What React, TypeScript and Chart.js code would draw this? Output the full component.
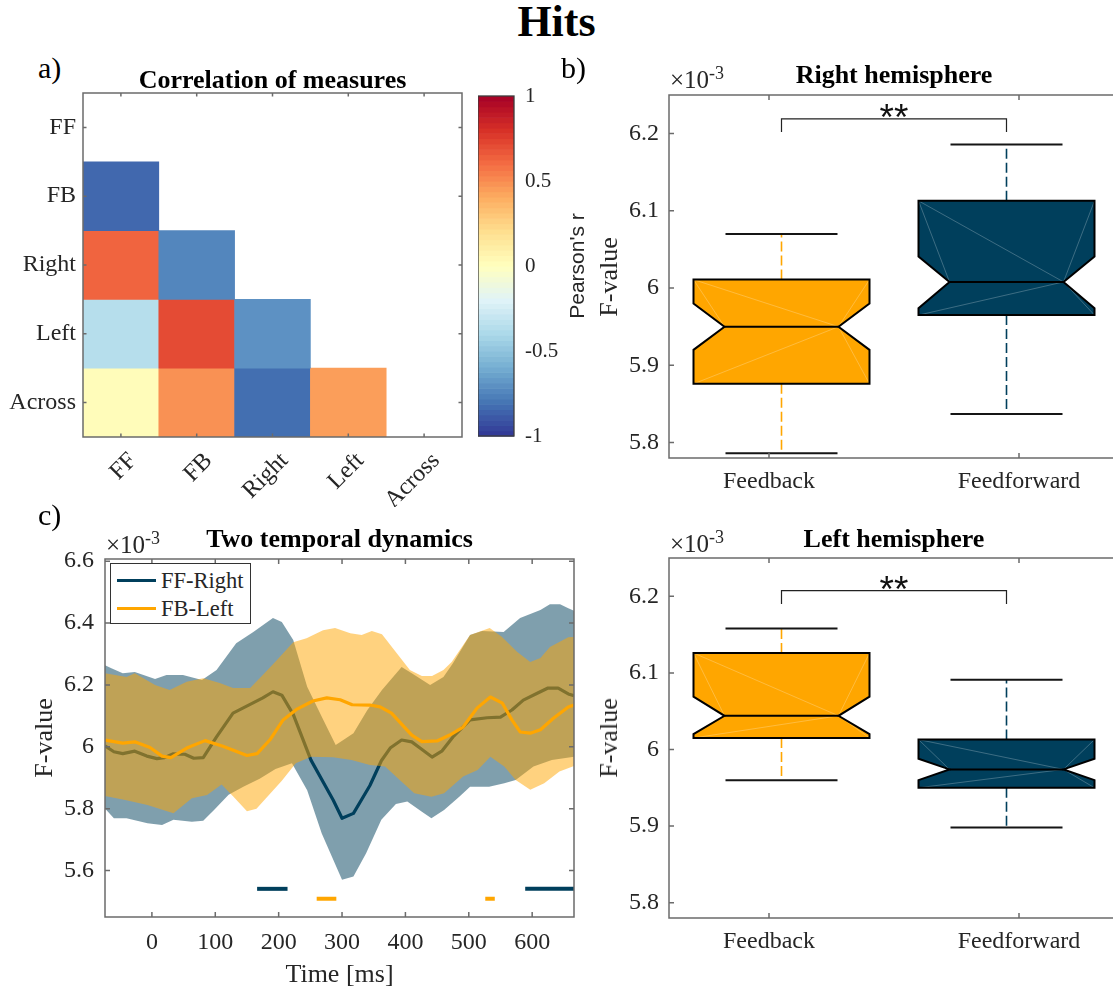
import React, { useEffect, useRef } from 'react';
import { Chart, registerables } from 'chart.js';

Chart.register(...registerables);

const SERIF = "'Liberation Serif', 'Times New Roman', Times, serif";
const SANS = "'Liberation Sans', Arial, Helvetica, sans-serif";
const NAVY = '#003f5c';
const ORANGE = '#ffa600';
const NAVY_BAND = 'rgba(0, 63, 92, 0.5)';
const ORANGE_BAND = 'rgba(255, 166, 0, 0.5)';
const TEXT = '#262626';
const AXIS = '#6b6b6b';
const CLEAR = 'rgba(0,0,0,0)';

type Pair = [number, number];

// ---------------- Panel a: correlation of measures ----------------
const MEASURES = ['FF', 'FB', 'Right', 'Left', 'Across'];
const CORR_FF: number[] = [];
const CORR_FB = [-0.84];
const CORR_RIGHT = [0.63, -0.74];
const CORR_LEFT = [-0.36, 0.71, -0.7];
const CORR_ACROSS = [0.02, 0.49, -0.82, 0.45];
const CORR_ROWS = [CORR_FF, CORR_FB, CORR_RIGHT, CORR_LEFT, CORR_ACROSS];
const COLORBAR_TICKS = [-1, -0.5, 0, 0.5, 1];
const RDYLBU = ['#313695', '#4575b4', '#74add1', '#abd9e9', '#e0f3f8', '#ffffbf', '#fee090', '#fdae61', '#f46d43', '#d73027', '#a50026'];
const COLORBAR_STEPS = 64;

// ---------------- Panels b & d: box plots ----------------
const GROUPS = ['Feedback', 'Feedforward'];
const GROUP_POS = [1.05, 1.95];
const GROUP_COLORS = [ORANGE, NAVY];
const BOX_TICKS = [5.8, 5.9, 6, 6.1, 6.2];

const RH_LOWER = [5.786, 5.837];
const RH_Q1 = [5.876, 5.965];
const RH_NOTCH_LOW = [5.92, 5.974];
const RH_MEDIAN = [5.95, 6.008];
const RH_NOTCH_HIGH = [5.98, 6.041];
const RH_Q3 = [6.011, 6.113];
const RH_UPPER = [6.07, 6.186];
const RH_BRACKET = [6.202, 6.219];

const LH_LOWER = [5.96, 5.898];
const LH_Q1 = [6.015, 5.95];
const LH_NOTCH_LOW = [6.02, 5.96];
const LH_MEDIAN = [6.044, 5.974];
const LH_NOTCH_HIGH = [6.069, 5.988];
const LH_Q3 = [6.126, 6.013];
const LH_UPPER = [6.158, 6.091];
const LH_BRACKET = [6.19, 6.2075];

// ---------------- Panel c: temporal dynamics ----------------
const TIME_TICKS = [0, 100, 200, 300, 400, 500, 600];
const FVAL_TICKS = [5.6, 5.8, 6, 6.2, 6.4, 6.6];

const FF_RIGHT_MEAN: Pair[] = [
  [-74, 6.003], [-60, 5.984], [-46, 5.978], [-27, 5.986], [-8, 5.97], [8, 5.962], [20, 5.965], [33, 5.977],
  [52, 5.976], [66, 5.963], [81, 5.965], [102, 6.032], [128, 6.109], [155, 6.137], [175, 6.158], [191, 6.178],
  [205, 6.167], [223, 6.105], [251, 5.957], [286, 5.828], [300, 5.769], [318, 5.785], [344, 5.875], [362, 5.955],
  [376, 5.996], [394, 6.022], [410, 6.016], [423, 5.996], [442, 5.967], [458, 5.987], [475, 6.032], [502, 6.087],
  [529, 6.094], [550, 6.096], [568, 6.119], [586, 6.151], [608, 6.173], [625, 6.19], [641, 6.19], [657, 6.171],
  [666, 6.165],
];
const FF_RIGHT_UPPER: Pair[] = [
  [-74, 6.264], [-63, 6.253], [-46, 6.238], [-27, 6.242], [5, 6.219], [23, 6.232], [49, 6.232], [79, 6.216],
  [102, 6.248], [133, 6.335], [160, 6.371], [191, 6.416], [205, 6.403], [223, 6.345], [245, 6.194], [268, 6.097],
  [290, 6.006], [302, 6.022], [318, 6.044], [340, 6.119], [363, 6.184], [394, 6.258], [410, 6.238], [439, 6.2],
  [460, 6.226], [475, 6.27], [502, 6.361], [521, 6.374], [555, 6.371], [581, 6.416], [613, 6.442], [628, 6.461],
  [644, 6.461], [657, 6.448], [666, 6.44],
];
const FF_RIGHT_LOWER: Pair[] = [
  [-74, 5.801], [-60, 5.769], [-40, 5.769], [-7, 5.753], [16, 5.747], [34, 5.764], [63, 5.758], [81, 5.761],
  [98, 5.796], [121, 5.845], [145, 5.872], [170, 5.897], [195, 5.928], [221, 5.947], [245, 5.86], [268, 5.72],
  [300, 5.57], [318, 5.581], [338, 5.656], [362, 5.764], [385, 5.815], [403, 5.823], [426, 5.79], [441, 5.769],
  [461, 5.796], [485, 5.839], [502, 5.871], [532, 5.871], [556, 5.882], [574, 5.893], [602, 5.936], [631, 5.957],
  [666, 5.968],
];
const FB_LEFT_MEAN: Pair[] = [
  [-74, 6.022], [-46, 6.012], [-27, 6.016], [-3, 5.998], [16, 5.97], [30, 5.965], [55, 5.996], [84, 6.02],
  [112, 6.002], [150, 5.972], [166, 5.978], [186, 6.022], [207, 6.087], [229, 6.122], [254, 6.148], [276, 6.158],
  [297, 6.152], [316, 6.136], [344, 6.135], [360, 6.129], [378, 6.109], [410, 6.038], [426, 6.017], [450, 6.019],
  [470, 6.038], [491, 6.064], [513, 6.125], [534, 6.161], [553, 6.141], [568, 6.087], [581, 6.048], [597, 6.044],
  [613, 6.055], [634, 6.093], [657, 6.129], [666, 6.135],
];
const FB_LEFT_UPPER: Pair[] = [
  [-74, 6.238], [-40, 6.226], [-27, 6.238], [5, 6.2], [28, 6.184], [55, 6.21], [81, 6.222], [107, 6.206],
  [128, 6.19], [155, 6.19], [175, 6.232], [197, 6.28], [223, 6.338], [244, 6.351], [270, 6.377], [289, 6.384],
  [313, 6.367], [331, 6.361], [347, 6.374], [363, 6.364], [391, 6.29], [407, 6.248], [426, 6.229], [442, 6.229],
  [460, 6.248], [473, 6.274], [502, 6.361], [533, 6.384], [552, 6.356], [576, 6.307], [597, 6.274], [613, 6.287],
  [628, 6.323], [657, 6.354], [666, 6.355],
];
const FB_LEFT_LOWER: Pair[] = [
  [-74, 5.841], [-42, 5.828], [-7, 5.812], [34, 5.785], [63, 5.834], [87, 5.844], [110, 5.878], [128, 5.84],
  [150, 5.792], [165, 5.8], [185, 5.845], [205, 5.89], [227, 5.947], [251, 5.968], [286, 5.966], [315, 5.957],
  [344, 5.941], [368, 5.936], [391, 5.893], [414, 5.85], [441, 5.839], [461, 5.85], [491, 5.904], [514, 5.925],
  [534, 5.968], [556, 5.936], [574, 5.893], [597, 5.861], [619, 5.882], [643, 5.92], [666, 5.938],
];
const SIG_FF_RIGHT: Pair[] = [[166, 214], [589, 666]];
const SIG_FB_LEFT: Pair[] = [[260, 291], [526, 541]];
const SIG_FF_LEVEL = 5.541;
const SIG_FB_LEVEL = 5.509;

// ---------------- helpers ----------------
function hexToRgb(h: string): number[] {
  const n = parseInt(h.slice(1), 16);
  return [(n >> 16) & 255, (n >> 8) & 255, n & 255];
}
function rdylbu(v: number): string {
  const t = Math.max(0, Math.min(1, (v + 1) / 2)) * (RDYLBU.length - 1);
  const i = Math.min(RDYLBU.length - 2, Math.floor(t));
  const f = t - i;
  const a = hexToRgb(RDYLBU[i]);
  const b = hexToRgb(RDYLBU[i + 1]);
  const c = a.map((av, k) => Math.round(av + (b[k] - av) * f));
  return `rgb(${c[0]},${c[1]},${c[2]})`;
}
const numLabel = (v: any) => String(Math.round(Number(v) * 1000) / 1000);

function fixExtent(axis: 'x' | 'y', size: number) {
  return (s: any) => {
    if (axis === 'y') s.width = size;
    else s.height = size;
    s.paddingTop = 0;
    s.paddingBottom = 0;
    s.paddingLeft = 0;
    s.paddingRight = 0;
  };
}
function setTicks(values: number[]) {
  return (s: any) => {
    s.ticks = values.map((v) => ({ value: v }));
  };
}

function axesBox(len: number) {
  return {
    id: 'axesBox',
    afterDraw(chart: any) {
      const { ctx, chartArea: a } = chart;
      const xs = chart.scales.x;
      const ys = chart.scales.y;
      ctx.save();
      ctx.strokeStyle = AXIS;
      ctx.lineWidth = 1.5;
      ctx.beginPath();
      ctx.rect(a.left, a.top, a.right - a.left, a.bottom - a.top);
      xs.ticks.forEach((_: any, i: number) => {
        const px = xs.getPixelForTick(i);
        ctx.moveTo(px, a.bottom);
        ctx.lineTo(px, a.bottom - len);
        ctx.moveTo(px, a.top);
        ctx.lineTo(px, a.top + len);
      });
      ys.ticks.forEach((_: any, i: number) => {
        const py = ys.getPixelForTick(i);
        ctx.moveTo(a.left, py);
        ctx.lineTo(a.left + len, py);
        ctx.moveTo(a.right, py);
        ctx.lineTo(a.right - len, py);
      });
      ctx.stroke();
      ctx.restore();
    },
  };
}

const BOX_HALF = 0.352;
const NOTCH_HALF = 0.228;
const CAP_HALF = 0.224;

type BoxStats = {
  low: number[]; q1: number[]; nlo: number[]; med: number[]; nhi: number[]; q3: number[]; high: number[]; bracket: number[];
};

function boxPlotPlugin(s: BoxStats) {
  return {
    id: 'notchedBoxes',
    afterDatasetsDraw(chart: any) {
      const { ctx, chartArea: a } = chart;
      const xs = chart.scales.x;
      const ys = chart.scales.y;
      const X = (v: number) => xs.getPixelForValue(v);
      const Y = (v: number) => ys.getPixelForValue(v);
      ctx.save();
      ctx.beginPath();
      ctx.rect(a.left, a.top, a.right - a.left, a.bottom - a.top);
      ctx.clip();
      GROUP_POS.forEach((p, i) => {
        const color = GROUP_COLORS[i];
        const xc = X(p);
        ctx.setLineDash([10, 4]);
        ctx.lineWidth = 1.6;
        ctx.strokeStyle = color;
        ctx.beginPath();
        ctx.moveTo(xc, Y(s.q3[i]));
        ctx.lineTo(xc, Y(s.high[i]));
        ctx.moveTo(xc, Y(s.q1[i]));
        ctx.lineTo(xc, Y(s.low[i]));
        ctx.stroke();
        ctx.setLineDash([]);
        ctx.strokeStyle = '#151515';
        ctx.lineWidth = 2;
        ctx.beginPath();
        ctx.moveTo(X(p - CAP_HALF), Y(s.high[i]));
        ctx.lineTo(X(p + CAP_HALF), Y(s.high[i]));
        ctx.moveTo(X(p - CAP_HALF), Y(s.low[i]));
        ctx.lineTo(X(p + CAP_HALF), Y(s.low[i]));
        ctx.stroke();
        const xl = X(p - BOX_HALF);
        const xr = X(p + BOX_HALF);
        const xil = X(p - NOTCH_HALF);
        const xir = X(p + NOTCH_HALF);
        const yt = Y(s.q3[i]);
        const yb = Y(s.q1[i]);
        const ym = Y(s.med[i]);
        const yhi = Y(s.nhi[i]);
        const ylo = Y(s.nlo[i]);
        const trace = () => {
          ctx.beginPath();
          ctx.moveTo(xl, yt);
          ctx.lineTo(xr, yt);
          ctx.lineTo(xr, yhi);
          ctx.lineTo(xir, ym);
          ctx.lineTo(xr, ylo);
          ctx.lineTo(xr, yb);
          ctx.lineTo(xl, yb);
          ctx.lineTo(xl, ylo);
          ctx.lineTo(xil, ym);
          ctx.lineTo(xl, yhi);
          ctx.closePath();
        };
        trace();
        ctx.fillStyle = color;
        ctx.fill();
        ctx.strokeStyle = 'rgba(255,255,255,0.3)';
        ctx.lineWidth = 0.8;
        ctx.beginPath();
        ctx.moveTo(xl, yt); ctx.lineTo(xil, ym);
        ctx.moveTo(xl, yt); ctx.lineTo(xir, ym);
        ctx.moveTo(xr, yt); ctx.lineTo(xir, ym);
        ctx.moveTo(xl, yb); ctx.lineTo(xir, ym);
        ctx.moveTo(xr, yb); ctx.lineTo(xir, ym);
        ctx.stroke();
        trace();
        ctx.strokeStyle = '#000';
        ctx.lineWidth = 2;
        ctx.lineJoin = 'miter';
        ctx.stroke();
        ctx.beginPath();
        ctx.moveTo(xil, ym);
        ctx.lineTo(xir, ym);
        ctx.stroke();
      });
      const x0 = X(GROUP_POS[0]);
      const x1 = X(GROUP_POS[1]);
      const yLow = Y(s.bracket[0]);
      const yTop = Y(s.bracket[1]);
      ctx.strokeStyle = '#222';
      ctx.lineWidth = 1.2;
      ctx.beginPath();
      ctx.moveTo(x0, yLow);
      ctx.lineTo(x0, yTop);
      ctx.lineTo(x1, yTop);
      ctx.lineTo(x1, yLow);
      ctx.stroke();
      ctx.fillStyle = '#111';
      ctx.font = `37px ${SANS}`;
      ctx.textAlign = 'center';
      ctx.textBaseline = 'alphabetic';
      ctx.fillText('**', (x0 + x1) / 2, yTop + 11);
      ctx.restore();
    },
  };
}

const colorbarPlugin = {
  id: 'colorbar',
  beforeDatasetsDraw(chart: any) {
    const { ctx, chartArea: a } = chart;
    const ys = chart.scales.y;
    const lo = COLORBAR_TICKS[0];
    const hi = COLORBAR_TICKS[COLORBAR_TICKS.length - 1];
    ctx.save();
    for (let k = 0; k < COLORBAR_STEPS; k++) {
      const v0 = lo + ((hi - lo) * k) / COLORBAR_STEPS;
      const v1 = lo + ((hi - lo) * (k + 1)) / COLORBAR_STEPS;
      const y0 = ys.getPixelForValue(v0);
      const y1 = ys.getPixelForValue(v1);
      ctx.fillStyle = rdylbu((v0 + v1) / 2);
      ctx.fillRect(a.left, y1, a.right - a.left, y0 - y1 + 0.6);
    }
    ctx.strokeStyle = '#3c3c3c';
    ctx.lineWidth = 1.3;
    ctx.strokeRect(a.left, a.top, a.right - a.left, a.bottom - a.top);
    ctx.restore();
  },
};

const tickFont = (size: number) => ({ family: SERIF, size });

function commonOptions(padding: any) {
  return {
    responsive: false,
    maintainAspectRatio: false,
    animation: false,
    devicePixelRatio: 1,
    events: [],
    layout: { padding },
    plugins: { legend: { display: false }, tooltip: { enabled: false }, title: { display: false } },
  };
}

function linearAxis(min: number, max: number, ticks: number[], axis: 'x' | 'y', extent: number, padding: number, extra: any = {}) {
  return {
    type: 'linear',
    min,
    max,
    grid: { display: false, drawTicks: false },
    border: { display: false },
    afterBuildTicks: setTicks(ticks),
    afterFit: fixExtent(axis, extent),
    ...extra,
    ticks: {
      font: tickFont(24), color: TEXT, padding, autoSkip: false, maxRotation: 0, minRotation: 0,
      callback: numLabel,
      ...(extra.ticks || {}),
    },
  };
}

// ---------------- chart configs ----------------
function heatmapConfig(): any {
  const rows = MEASURES.map((_, i) => i + 1);
  return {
    type: 'bar',
    data: {
      labels: MEASURES,
      datasets: CORR_ROWS.map((row, r) => ({
        data: MEASURES.map((_, c) => (c < row.length ? [rows[r] - 0.5, rows[r] + 0.5] : null)),
        backgroundColor: MEASURES.map((_, c) => (c < row.length ? rdylbu(row[c]) : CLEAR)),
        borderWidth: 0,
        barPercentage: 1,
        categoryPercentage: 1,
        grouped: false,
      })),
    },
    options: {
      ...commonOptions({ top: 4, right: 8, left: 0, bottom: 0 }),
      scales: {
        x: {
          type: 'category',
          offset: true,
          grid: { display: false, drawTicks: false },
          border: { display: false },
          afterFit: fixExtent('x', 70),
          ticks: { font: tickFont(24), color: TEXT, padding: 10, labelOffset: 12, autoSkip: false, minRotation: 45, maxRotation: 45 },
        },
        y: linearAxis(0.5, 5.5, rows, 'y', 83, 7, {
          reverse: true,
          ticks: { callback: (v: any) => MEASURES[Math.round(Number(v)) - 1] },
        }),
      },
    },
    plugins: [axesBox(3.5)],
  };
}

function colorbarConfig(): any {
  return {
    type: 'scatter',
    data: { datasets: [{ data: [] }] },
    options: {
      ...commonOptions({ top: 26, bottom: 30, left: 0, right: 0 }),
      scales: {
        x: { type: 'linear', display: false, min: 0, max: 1 },
        y: linearAxis(COLORBAR_TICKS[0], COLORBAR_TICKS[COLORBAR_TICKS.length - 1], COLORBAR_TICKS, 'y', 50, 11, {
          position: 'right',
          ticks: { font: tickFont(21) },
        }),
      },
    },
    plugins: [colorbarPlugin],
  };
}

function boxConfig(stats: BoxStats): any {
  return {
    type: 'scatter',
    data: { datasets: [{ data: [] }] },
    options: {
      ...commonOptions({ top: 4, right: 0, left: 0, bottom: 0 }),
      scales: {
        x: linearAxis(0.6, 2.4, GROUP_POS.map((_, i) => i + 1), 'x', 60, 9.5, {
          ticks: { callback: (v: any) => GROUPS[Math.round(Number(v)) - 1] },
        }),
        y: linearAxis(5.78, 6.25, BOX_TICKS, 'y', 109, 10),
      },
    },
    plugins: [boxPlotPlugin(stats), axesBox(5)],
  };
}

function dynamicsConfig(): any {
  const pts = (arr: Pair[]) => arr.map(([x, y]) => ({ x, y }));
  const band = (arr: Pair[], color: string, fill: any, order: number) => ({
    data: pts(arr), borderColor: CLEAR, borderWidth: 1, backgroundColor: color, fill, order, pointRadius: 0, tension: 0,
  });
  const mean = (arr: Pair[], color: string, order: number) => ({
    data: pts(arr), borderColor: color, borderWidth: 3.2, borderJoinStyle: 'round', fill: false, order, pointRadius: 0, tension: 0,
  });
  const sig = (segs: Pair[], level: number, color: string) =>
    segs.map(([a, b]) => ({
      data: [{ x: a, y: level }, { x: b, y: level }], borderColor: color, borderWidth: 4, borderCapStyle: 'butt', fill: false, order: 0, pointRadius: 0,
    }));
  return {
    type: 'line',
    data: {
      datasets: [
        band(FF_RIGHT_UPPER, NAVY_BAND, '+1', 6),
        band(FF_RIGHT_LOWER, CLEAR, false, 6),
        mean(FF_RIGHT_MEAN, NAVY, 5),
        band(FB_LEFT_UPPER, ORANGE_BAND, '+1', 4),
        band(FB_LEFT_LOWER, CLEAR, false, 4),
        mean(FB_LEFT_MEAN, ORANGE, 3),
        ...sig(SIG_FF_RIGHT, SIG_FF_LEVEL, NAVY),
        ...sig(SIG_FB_LEFT, SIG_FB_LEVEL, ORANGE),
      ],
    },
    options: {
      ...commonOptions({ top: 19, right: 6, left: 0, bottom: 0 }),
      scales: {
        x: linearAxis(-74, 666, TIME_TICKS, 'x', 45, 11.5),
        y: linearAxis(5.45, 6.607, FVAL_TICKS, 'y', 105, 11),
      },
    },
    plugins: [axesBox(5)],
  };
}

// ---------------- components ----------------
function ChartCanvas({ left, top, width, height, build }: { left: number; top: number; width: number; height: number; build: () => any }) {
  const ref = useRef<HTMLCanvasElement>(null);
  useEffect(() => {
    if (!ref.current) return;
    const chart = new Chart(ref.current, build());
    return () => chart.destroy();
  }, []);
  return <canvas ref={ref} width={width} height={height} style={{ position: 'absolute', left, top, width, height }} />;
}

function T({ x, y, size, children, bold = false, align = 'center', rotate = false, font = SERIF, color = '#000' }: any) {
  const tx = align === 'center' ? '-50%' : align === 'left' ? '0' : '-100%';
  return (
    <div
      style={{
        position: 'absolute',
        left: x,
        top: y,
        transform: rotate ? 'translate(-50%,-50%) rotate(-90deg)' : `translate(${tx},-50%)`,
        fontFamily: font,
        fontSize: size,
        fontWeight: bold ? 700 : 400,
        lineHeight: 1,
        whiteSpace: 'nowrap',
        color,
      }}
    >
      {children}
    </div>
  );
}

function Exponent({ left, top }: { left: number; top: number }) {
  return (
    <div style={{ position: 'absolute', left, top, fontFamily: SERIF, fontSize: 25, lineHeight: 1, color: TEXT, whiteSpace: 'nowrap' }}>
      ×10<span style={{ fontSize: 18, position: 'relative', top: -9 }}>-3</span>
    </div>
  );
}

function Legend() {
  const rows = [
    { label: 'FF-Right', color: NAVY, y: 16 },
    { label: 'FB-Left', color: ORANGE, y: 44 },
  ];
  return (
    <div style={{ position: 'absolute', left: 110, top: 563, width: 141, height: 61, boxSizing: 'border-box', border: '1px solid #333', background: '#fff' }}>
      {rows.map((r) => (
        <React.Fragment key={r.label}>
          <div style={{ position: 'absolute', left: 6, top: r.y - 1.5, width: 39, height: 3.2, background: r.color }} />
          <div style={{ position: 'absolute', left: 50, top: r.y + 1, transform: 'translateY(-50%)', fontFamily: SERIF, fontSize: 22.5, lineHeight: 1, color: TEXT, whiteSpace: 'nowrap' }}>
            {r.label}
          </div>
        </React.Fragment>
      ))}
    </div>
  );
}

const RIGHT_STATS: BoxStats = { low: RH_LOWER, q1: RH_Q1, nlo: RH_NOTCH_LOW, med: RH_MEDIAN, nhi: RH_NOTCH_HIGH, q3: RH_Q3, high: RH_UPPER, bracket: RH_BRACKET };
const LEFT_STATS: BoxStats = { low: LH_LOWER, q1: LH_Q1, nlo: LH_NOTCH_LOW, med: LH_MEDIAN, nhi: LH_NOTCH_HIGH, q3: LH_Q3, high: LH_UPPER, bracket: LH_BRACKET };

export default function App() {
  return (
    <div style={{ position: 'fixed', left: 0, top: 0, width: 1113, height: 989, overflow: 'hidden', background: '#fff' }}>
      <ChartCanvas left={0} top={89} width={470} height={418} build={heatmapConfig} />
      <ChartCanvas left={478} top={70} width={86} height={396} build={colorbarConfig} />
      <ChartCanvas left={560} top={91} width={559} height={427} build={() => boxConfig(RIGHT_STATS)} />
      <ChartCanvas left={0} top={540} width={580} height={422} build={dynamicsConfig} />
      <ChartCanvas left={560} top={554} width={559} height={424} build={() => boxConfig(LEFT_STATS)} />

      <T x={556.5} y={22} size={44} bold>Hits</T>
      <T x={38} y={68} size={30} align="left">a)</T>
      <T x={561} y={68} size={30} align="left">b)</T>
      <T x={38} y={515} size={30} align="left">c)</T>

      <T x={272.5} y={80} size={26} bold>Correlation of measures</T>
      <T x={894} y={75} size={26} bold>Right hemisphere</T>
      <T x={339.5} y={539} size={26} bold>Two temporal dynamics</T>
      <T x={894} y={539} size={26} bold>Left hemisphere</T>

      <T x={576} y={266} size={21} rotate font={SANS} color={TEXT}>Pearson's r</T>
      <T x={609} y={276.5} size={26} rotate color={TEXT}>F-value</T>
      <T x={43.5} y={738} size={26} rotate color={TEXT}>F-value</T>
      <T x={609} y={738} size={26} rotate color={TEXT}>F-value</T>
      <T x={339.5} y={974} size={26} color={TEXT}>Time [ms]</T>

      <Exponent left={670} top={67} />
      <Exponent left={106} top={532} />
      <Exponent left={670} top={531} />

      <Legend />
    </div>
  );
}
